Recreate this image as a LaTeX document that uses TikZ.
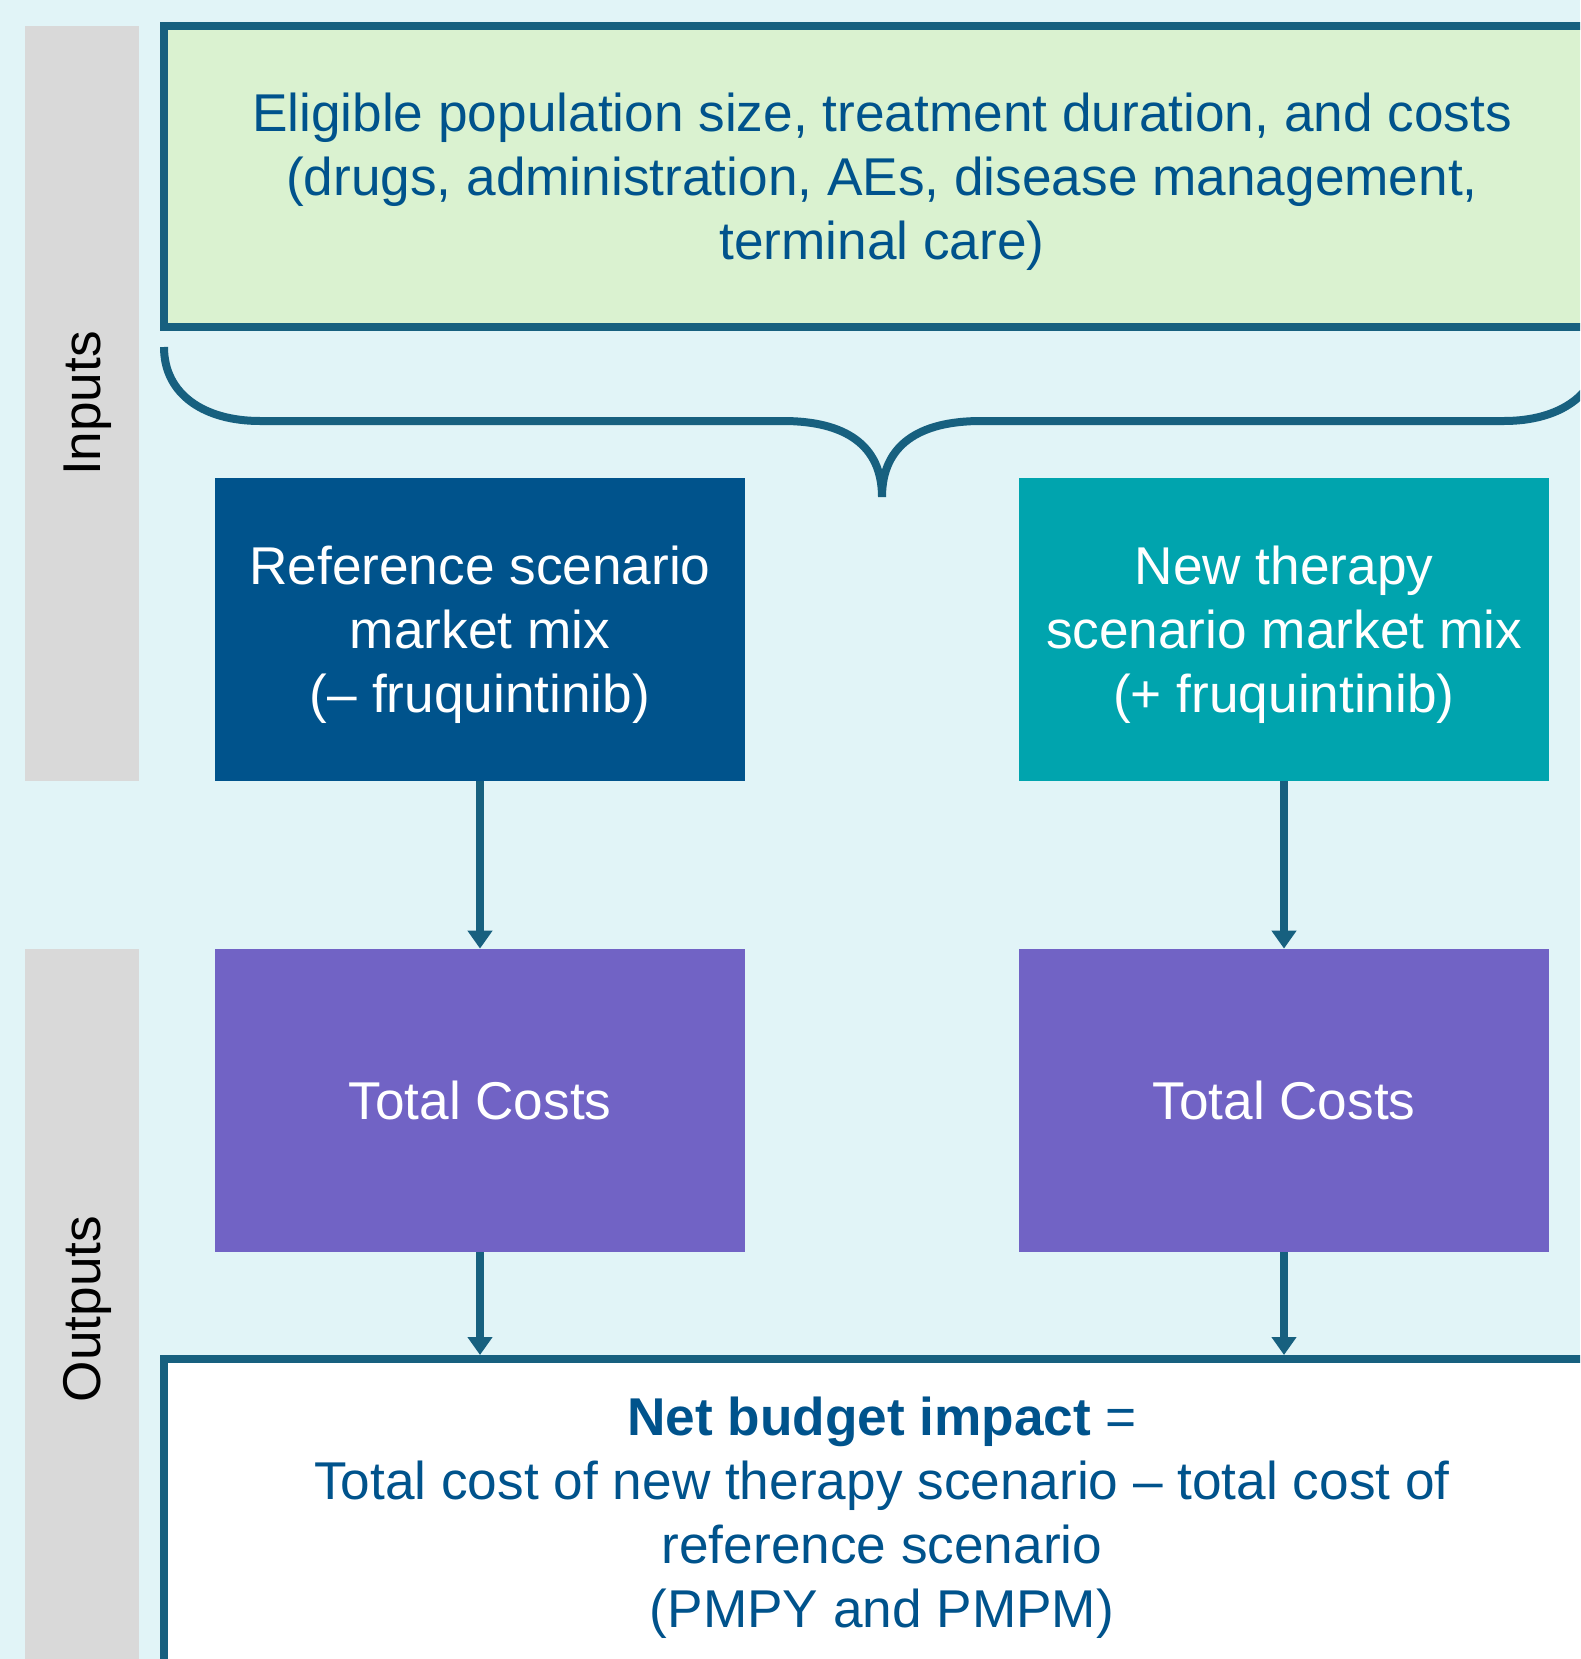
\documentclass[tikz,border=0pt]{standalone}
\usepackage{fontspec}
\setmainfont{Liberation Sans}
\usetikzlibrary{arrows.meta}

\definecolor{paleteal}{HTML}{E1F4F7}
\definecolor{bandgray}{HTML}{D9D9D9}
\definecolor{linecol}{HTML}{17607F}
\definecolor{textblue}{HTML}{00538C}
\definecolor{inputgreen}{HTML}{DAF2D0}
\definecolor{refblue}{HTML}{00538C}
\definecolor{newteal}{HTML}{00A4AE}
\definecolor{costpurple}{HTML}{7163C5}

\begin{document}
\begin{tikzpicture}[x=0.5pt,y=-0.5pt,
		every node/.style={font=\fontsize{26.6}{32}\selectfont, align=center, text depth=-0.5pt},
		band/.style={fill=bandgray, rotate=90, inner sep=0pt, minimum height=57pt},
		frame/.style={draw=linecol, line width=4pt, minimum width=718pt, text=textblue},
		mixbox/.style={minimum width=265pt, minimum height=151.5pt, inner sep=0pt, text=white},
		flow/.style={draw=linecol, line width=4pt, -{Triangle[width=12pt,length=9pt]}}]
			\useasboundingbox (0,0) rectangle (1580,1659);
			\clip (0,0) rectangle (1580,1659);
			\fill[paleteal] (0,0) rectangle (1580,1659);

			\node[band, minimum width=377.5pt] (inputs) at (82,403.5) {Inputs};
			\node[band, minimum width=360pt] (outputs) at (82,1309) {Outputs};

			\node[frame, fill=inputgreen, minimum height=150.5pt] (data) at (882,176.5) {Eligible population size, treatment duration, and costs\\(drugs, administration, AEs, disease management,\\terminal care)};
			\draw[linecol, line width=4pt] (164,347) .. controls (164,395) and (205,421) .. (260,421) -- (783,421)
				.. controls (845,421) and (882,445) .. (882,497) .. controls (882,445) and (919,421) .. (981,421)
				-- (1504,421) .. controls (1559,421) and (1600,395) .. (1600,347);

			\node[mixbox, fill=refblue] (refmix) at (480,629.5) {Reference scenario\\market mix\\(– fruquintinib)};
			\node[mixbox, fill=newteal] (newmix) at (1284,629.5) {New therapy\\scenario market mix\\(+ fruquintinib)};
			\node[mixbox, fill=costpurple] (refcost) at (480,1100.5) {Total Costs};
			\node[mixbox, fill=costpurple] (newcost) at (1284,1100.5) {Total Costs};

			\node[frame, fill=white, minimum height=153pt] (net) at (882,1512) {\textbf{Net budget impact} =\\Total cost of new therapy scenario – total cost of\\reference scenario\\(PMPY and PMPM)};

			\draw[flow] (refmix) -- (refcost);
			\draw[flow] (newmix) -- (newcost);
			\draw[flow] (refcost.south) -- (refcost.south |- net.north);
			\draw[flow] (newcost.south) -- (newcost.south |- net.north);
		\end{tikzpicture}
\end{document}
